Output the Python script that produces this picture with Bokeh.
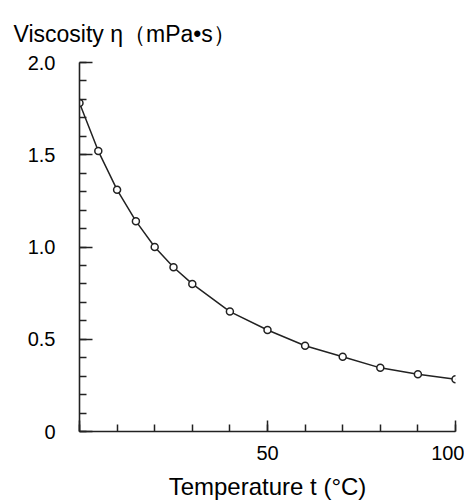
from bokeh.plotting import figure
from bokeh.models import SingleIntervalTicker, Range1d, NumeralTickFormatter
from bokeh.embed import file_html
from bokeh.resources import INLINE

temperature = [0, 5, 10, 15, 20, 25, 30, 40, 50, 60, 70, 80, 90, 100]
viscosity = [1.78, 1.52, 1.31, 1.14, 1.00, 0.89, 0.80, 0.65, 0.55, 0.465, 0.405, 0.345, 0.31, 0.283]

y_tick_labels = {0: "0"}
x_tick_labels = {0: "", 50: "50", 100: "100"}

FONT = "Liberation Sans"
DARK = "#222222"

p = figure(width=464, height=502, output_backend="svg", toolbar_location=None,
           x_range=Range1d(0, 100), y_range=Range1d(0, 2.0),
           min_border_left=79, min_border_right=9, min_border_top=62, min_border_bottom=69)
p.grid.visible = False
p.outline_line_color = None

p.title.text = "Viscosity η（mPa•s）"
p.title.align = "left"
p.title.offset = -66
p.title.text_font = FONT
p.title.text_font_size = "23px"
p.title.text_font_style = "normal"
p.title.text_color = "black"
p.title.standoff = 32

p.line(temperature, viscosity, line_color=DARK, line_width=1.5)
p.scatter(temperature, viscosity, marker="circle", size=7, fill_color="white",
          line_color=DARK, line_width=1.5)

for ax in (p.xaxis[0], p.yaxis[0]):
    ax.axis_line_color = DARK
    ax.axis_line_width = 1.6
    ax.major_tick_line_color = DARK
    ax.minor_tick_line_color = DARK
    ax.major_tick_line_width = 1.5
    ax.minor_tick_line_width = 1.5
    ax.major_tick_out = 0
    ax.minor_tick_out = 0
    ax.minor_tick_in = 7
    ax.major_label_text_font = FONT
    ax.major_label_text_font_size = "20px"
    ax.major_label_text_color = "black"

p.yaxis.ticker = SingleIntervalTicker(interval=0.5, num_minor_ticks=5)
p.yaxis.formatter = NumeralTickFormatter(format="0.0")
p.yaxis.major_tick_in = 13
p.yaxis.major_label_standoff = 24
p.yaxis.major_label_overrides = y_tick_labels

p.xaxis.ticker = SingleIntervalTicker(interval=50, num_minor_ticks=5)
p.xaxis.major_tick_in = 11
p.xaxis.major_label_standoff = 14
p.xaxis.major_label_overrides = x_tick_labels
p.xaxis.axis_label = "Temperature t (°C)"
p.xaxis.axis_label_text_font = FONT
p.xaxis.axis_label_text_font_size = "24px"
p.xaxis.axis_label_text_font_style = "normal"
p.xaxis.axis_label_text_color = "black"
p.xaxis.axis_label_standoff = 10

open("out.html", "w").write(file_html(p, INLINE))
